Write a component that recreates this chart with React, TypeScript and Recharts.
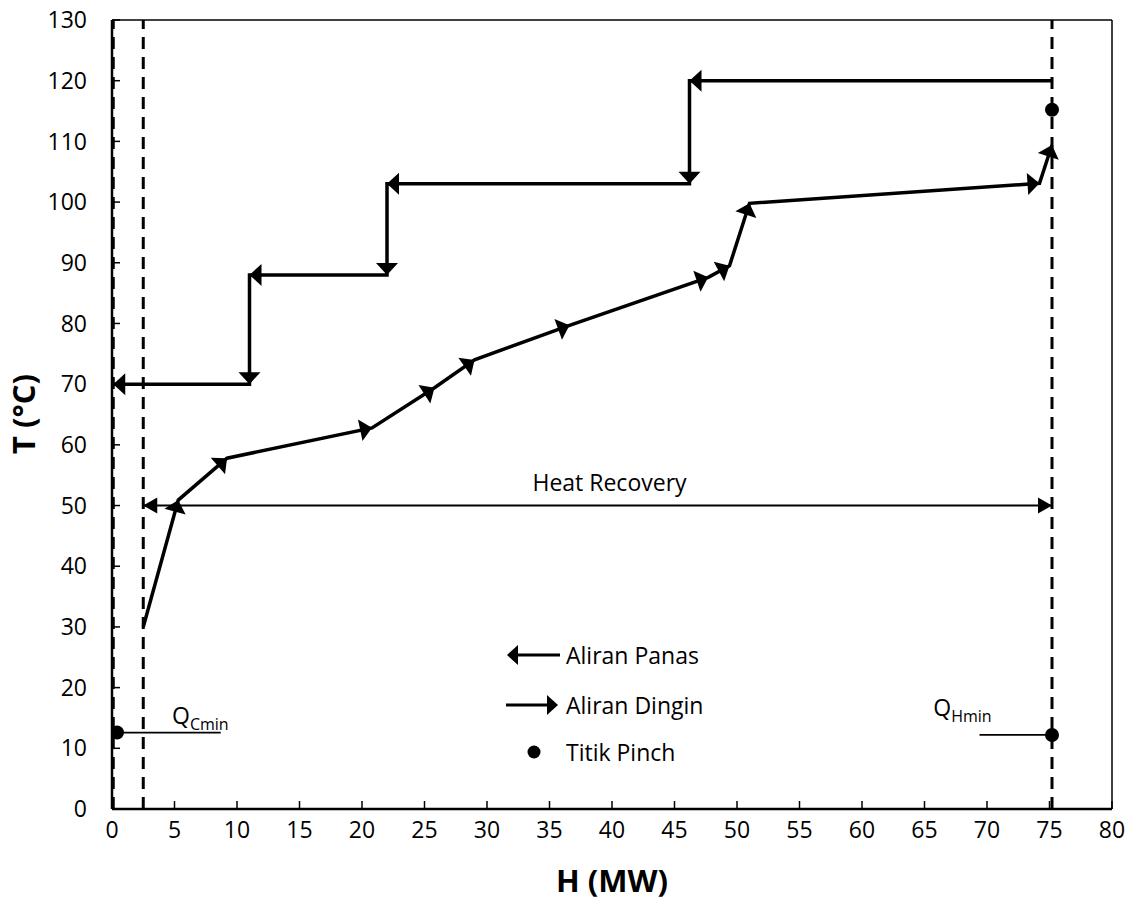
import React from "react";
import {
  ComposedChart,
  Line,
  Scatter,
  XAxis,
  YAxis,
  ReferenceLine,
  ReferenceDot,
} from "recharts";

document.body.style.margin = "0";

const W = 1133;
const H = 906;
const MARGIN = { top: 20, right: 21, left: 0, bottom: 0 };
const Y_AXIS_W = 112;
const X_AXIS_H = 97;
const X_MAX = 80;
const Y_MAX = 130;
const PX_X = (W - MARGIN.left - MARGIN.right - Y_AXIS_W) / X_MAX;
const PX_Y = (H - MARGIN.top - MARGIN.bottom - X_AXIS_H) / Y_MAX;

const FONT = "'Open Sans', 'Noto Sans', sans-serif";
const FS = 23;

const xTicks = [0, 5, 10, 15, 20, 25, 30, 35, 40, 45, 50, 55, 60, 65, 70, 75, 80];
const yTicks = [0, 10, 20, 30, 40, 50, 60, 70, 80, 90, 100, 110, 120, 130];

// hot composite curve (Aliran Panas), drawn from high H to low H
const hotCurve = [
  { h: 75.2, t: 120 },
  { h: 46.2, t: 120 },
  { h: 46.2, t: 103 },
  { h: 22, t: 103 },
  { h: 22, t: 88 },
  { h: 11, t: 88 },
  { h: 11, t: 70 },
  { h: 0.1, t: 70 },
];

// cold composite curve (Aliran Dingin)
const coldCurve = [
  { h: 2.5, t: 30 },
  { h: 5.3, t: 50.9 },
  { h: 9.2, t: 57.8 },
  { h: 20.8, t: 62.8 },
  { h: 25.8, t: 69.4 },
  { h: 29.0, t: 74 },
  { h: 36.6, t: 79.7 },
  { h: 47.7, t: 87.6 },
  { h: 49.4, t: 89.5 },
  { h: 51.0, t: 99.8 },
  { h: 74.2, t: 103.1 },
  { h: 75.2, t: 109.4 },
];

const heatRecovery = [
  { h: 2.5, t: 50 },
  { h: 75.2, t: 50 },
];

const qcMinLine = [
  { h: 0.4, t: 12.6 },
  { h: 8.7, t: 12.6 },
];

const qhMinLine = [
  { h: 69.4, t: 12.2 },
  { h: 75.2, t: 12.2 },
];

const pinchPoints = [
  { h: 75.2, t: 115.2 },
  { h: 0.4, t: 12.6 },
  { h: 75.2, t: 12.2 },
];

const dashedX = [0.1, 2.5, 75.2];

type Pt = { h: number; t: number };

function arrowHead(cx: number, cy: number, from: Pt, to: Pt, len: number, half: number, key: string) {
  const dx = (to.h - from.h) * PX_X;
  const dy = -(to.t - from.t) * PX_Y;
  const ang = (Math.atan2(dy, dx) * 180) / Math.PI;
  return (
    <polygon
      key={key}
      points={`0,0 ${-len},${-half} ${-len},${half}`}
      fill="#000"
      transform={`translate(${cx},${cy}) rotate(${ang})`}
    />
  );
}

// arrow at the end of every segment, pointing along it
function segmentArrows(pts: Pt[]) {
  return (props: any) => {
    const { cx, cy, index } = props;
    if (index === 0 || cx == null) return <g key={`a-${index}`} />;
    return arrowHead(cx, cy, pts[index - 1], pts[index], 12, 11, `a-${index}`);
  };
}

function bothEnds(pts: Pt[]) {
  return (props: any) => {
    const { cx, cy, index } = props;
    if (index === 0) return arrowHead(cx, cy, pts[1], pts[0], 14, 8, "e0");
    return arrowHead(cx, cy, pts[index - 1], pts[index], 14, 8, `e${index}`);
  };
}

const QLabel = (props: any) => {
  const { viewBox, sub } = props;
  const x = viewBox?.x ?? 0;
  const y = viewBox?.y ?? 0;
  return (
    <text x={x} y={y} fontFamily={FONT} fontSize={FS} fill="#000">
      Q
      <tspan fontSize={16} dy={6}>
        {sub}
      </tspan>
    </text>
  );
};

const CenterLabel = (props: any) => {
  const { viewBox, text } = props;
  return (
    <text
      x={viewBox?.x ?? 0}
      y={viewBox?.y ?? 0}
      textAnchor="middle"
      dominantBaseline="central"
      fontFamily={FONT}
      fontSize={FS}
      fill="#000"
    >
      {text}
    </text>
  );
};

const YTitle = () => (
  <text
    x={23}
    y={414}
    transform="rotate(-90, 23, 414)"
    textAnchor="middle"
    dominantBaseline="central"
    fontFamily={FONT}
    fontSize={31}
    fontWeight="bold"
    fill="#000"
  >
    T (°C)
  </text>
);

function Legend() {
  const row = { position: "absolute" as const, left: 0, display: "flex", alignItems: "center", height: 30 };
  const txt = { fontFamily: FONT, fontSize: FS, color: "#000", marginLeft: 4 };
  return (
    <div style={{ position: "absolute", left: 504, top: 640, width: 260, height: 130 }}>
      <div style={{ ...row, top: 0 }}>
        <svg width={58} height={30}>
          <line x1={12} y1={15} x2={56} y2={15} stroke="#000" strokeWidth={3} />
          <polygon points="3,15 14,5 14,25" fill="#000" />
        </svg>
        <span style={txt}>Aliran Panas</span>
      </div>
      <div style={{ ...row, top: 50 }}>
        <svg width={58} height={30}>
          <line x1={2} y1={15} x2={44} y2={15} stroke="#000" strokeWidth={3} />
          <polygon points="54,15 43,5 43,25" fill="#000" />
        </svg>
        <span style={txt}>Aliran Dingin</span>
      </div>
      <div style={{ ...row, top: 97 }}>
        <svg width={58} height={30}>
          <circle cx={30} cy={15} r={6.5} fill="#000" />
        </svg>
        <span style={txt}>Titik Pinch</span>
      </div>
    </div>
  );
}

export default function App() {
  const tickStyle = { fill: "#000", fontSize: FS, fontFamily: FONT };
  return (
    <div style={{ position: "relative", width: W, height: H, background: "#fff" }}>
      <ComposedChart width={W} height={H} margin={MARGIN}>
        <XAxis
          type="number"
          dataKey="h"
          domain={[0, X_MAX]}
          ticks={xTicks}
          allowDataOverflow
          height={X_AXIS_H}
          tick={tickStyle}
          tickSize={-8}
          tickMargin={21}
          axisLine={{ stroke: "#000", strokeWidth: 2.5 }}
          tickLine={{ stroke: "#000", strokeWidth: 1.5 }}
          label={{
            value: "H (MW)",
            position: "insideBottom",
            offset: 14,
            fill: "#000",
            fontSize: 31,
            fontWeight: "bold",
            fontFamily: FONT,
          }}
        />
        <YAxis
          type="number"
          dataKey="t"
          domain={[0, Y_MAX]}
          ticks={yTicks}
          allowDataOverflow
          width={Y_AXIS_W}
          tick={tickStyle}
          tickSize={-8}
          tickMargin={33}
          axisLine={{ stroke: "#000", strokeWidth: 2.5 }}
          tickLine={{ stroke: "#000", strokeWidth: 1.5 }}
          label={<YTitle />}
        />
        <ReferenceLine y={Y_MAX} stroke="#000" strokeWidth={1.5} />
        <ReferenceLine x={X_MAX} stroke="#000" strokeWidth={1.5} />
        {dashedX.map((x) => (
          <ReferenceLine key={x} x={x} stroke="#000" strokeWidth={3} strokeDasharray="12 8" />
        ))}
        <Line
          data={qcMinLine}
          dataKey="t"
          stroke="#000"
          strokeWidth={1.75}
          dot={false}
          isAnimationActive={false}
        />
        <Line
          data={qhMinLine}
          dataKey="t"
          stroke="#000"
          strokeWidth={1.75}
          dot={false}
          isAnimationActive={false}
        />
        <Line
          data={heatRecovery}
          dataKey="t"
          stroke="#000"
          strokeWidth={2}
          dot={bothEnds(heatRecovery)}
          isAnimationActive={false}
        />
        <Line
          data={hotCurve}
          dataKey="t"
          stroke="#000"
          strokeWidth={3.5}
          dot={segmentArrows(hotCurve)}
          isAnimationActive={false}
        />
        <Line
          data={coldCurve}
          dataKey="t"
          stroke="#000"
          strokeWidth={3.5}
          dot={segmentArrows(coldCurve)}
          isAnimationActive={false}
        />
        <Scatter
          data={pinchPoints}
          fill="#000"
          isAnimationActive={false}
          shape={(p: any) => <circle cx={p.cx} cy={p.cy} r={7} fill="#000" />}
        />
        <ReferenceDot x={39.8} y={53.9} r={0} stroke="none" fill="none" label={<CenterLabel text="Heat Recovery" />} />
        <ReferenceDot x={4.8} y={14.0} r={0} stroke="none" fill="none" label={<QLabel sub="Cmin" />} />
        <ReferenceDot x={65.7} y={15.4} r={0} stroke="none" fill="none" label={<QLabel sub="Hmin" />} />
      </ComposedChart>
      <Legend />
    </div>
  );
}
